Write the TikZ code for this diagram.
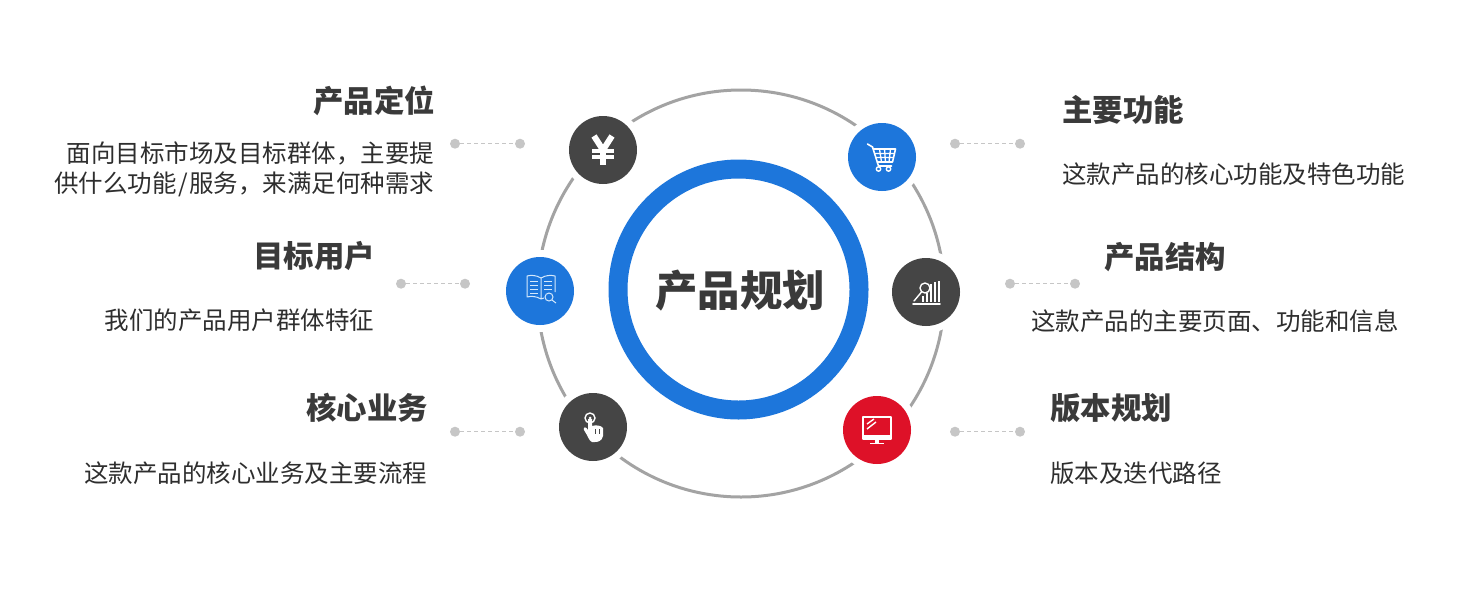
\documentclass[tikz,border=0pt]{standalone}
\usepackage{fontspec}
\setmainfont{Noto Sans CJK SC}
\definecolor{txt}{HTML}{3A3A3A}
\definecolor{dtxt}{HTML}{2E2E2E}
\definecolor{dk}{HTML}{454545}
\definecolor{blu}{HTML}{1D76DB}
\definecolor{redd}{HTML}{DE1128}
\definecolor{ringg}{HTML}{A3A3A3}
\definecolor{dotg}{HTML}{C6C6C6}
\definecolor{lblu}{HTML}{D4E8FC}
\tikzset{
 x=1pt,y=-1pt,
 head/.style={inner sep=0pt,font=\fontsize{30.4}{30}\selectfont\bfseries,text=txt},
 desc/.style={inner sep=0pt,font=\fontsize{24.5}{30}\selectfont,text=dtxt},
 badge/.style={circle,minimum size=68pt,inner sep=0pt,preaction={draw=white,line width=14pt}},
 dotn/.style={circle,fill=dotg,minimum size=10pt,inner sep=0pt},
 lead/.style={draw=dotg,line width=1.2pt,dash pattern=on 4pt off 3pt},
 ico/.style={draw=white,line width=1pt,fill=none,line cap=round,line join=round},
}
\begin{document}
\begin{tikzpicture}
\useasboundingbox (0,0) rectangle (1482,600);
\fill[white] (0,0) rectangle (1482,600);
\coordinate (c) at (741,293.5);
\draw[ringg,line width=3pt] (c) circle[radius=203.5];
\node[circle,draw=blu,line width=19pt,minimum size=241pt,inner sep=0pt] (core) at (738.5,289.5) {};
\node[inner sep=0pt,font=\fontsize{42.4}{42}\selectfont\bfseries,text=txt,anchor=base] (title) at (740,306.5) {产品规划};
% badges
\node[badge,fill=dk] (yen) at (603,150) {};
\node[badge,fill=blu] (book) at (540,291) {};
\node[badge,fill=dk] (hand) at (593,427) {};
\node[badge,fill=blu] (cart) at (882,157) {};
\node[badge,fill=dk] (chart) at (926,292) {};
\node[badge,fill=redd] (mon) at (877,430) {};
% leads
\foreach \a/\b/\xa/\xb/\yy in {l1a/l1b/455/520/143.7,l2a/l2b/401/465/283.7,l3a/l3b/455/520/431.7,r1a/r1b/955/1020/143.7,r2a/r2b/1010/1075/283.7,r3a/r3b/955/1020/431.7}{
 \node[dotn] (\a) at (\xa,\yy) {};
 \node[dotn] (\b) at (\xb,\yy) {};
 \draw[lead] (\a) -- (\b);
}
% texts left
\node[head,anchor=base east] (h1) at (435,112) {产品定位};
\node[desc,anchor=base east] (d1a) at (434.5,162.3) {面向目标市场及目标群体，主要提};
\node[desc,anchor=base east] (d1b) at (434.5,192.3) {供什么功能\kern1.5pt/\kern1.5pt服务，来满足何种需求};
\node[head,anchor=base east] (h2) at (375,267) {目标用户};
\node[desc,anchor=base east] (d2) at (374.5,329.5) {我们的产品用户群体特征};
\node[head,anchor=base east] (h3) at (428,419.3) {核心业务};
\node[desc,anchor=base east] (d3) at (427.5,482.5) {这款产品的核心业务及主要流程};
% texts right
\node[head,anchor=base west] (h4) at (1062,121.3) {主要功能};
\node[desc,anchor=base west] (d4) at (1062,183.3) {这款产品的核心功能及特色功能};
\node[head,anchor=base west] (h5) at (1104,268.3) {产品结构};
\node[desc,anchor=base west] (d5) at (1031,330.3) {这款产品的主要页面、功能和信息};
\node[head,anchor=base west] (h6) at (1050,419.3) {版本规划};
\node[desc,anchor=base west] (d6) at (1050,482.5) {版本及迭代路径};
% yen icon
\begin{scope}[shift={(603,148)}]
\draw[white,line width=6pt] (-9,-12) -- (0,2) -- (9,-12);
\draw[white,line width=6pt] (0,1) -- (0,17);
\draw[white,line width=3.2pt] (-11,3) -- (11,3) (-11,9) -- (11,9);
\end{scope}
% book icon
\begin{scope}[shift={(541,289)}]
\begin{scope}[lblu]
\draw[line width=1pt,line join=round] (0,-11) .. controls (-5,-14) and (-10,-14) .. (-14,-13) -- (-14,8) .. controls (-10,7) and (-5,7) .. (0,10) -- (3,9) (0,-11) .. controls (5,-14) and (10,-14) .. (14,-13) -- (14,3) (0,-11) -- (0,10);
\foreach \yy in {-8,-4,0,4}{\draw[line width=1pt] (-11,\yy) -- (-3,\yy);}
\foreach \yy in {-8,-4,0}{\draw[line width=1pt] (3,\yy) -- (11,\yy);}
\draw[line width=1pt] (8,8) circle[radius=4] (11,11) -- (15,14);
\end{scope}
\end{scope}
% hand icon
\begin{scope}[shift={(590,426)}]
\draw[white,line width=1.4pt] (0,-8) circle[radius=5];
\fill[white] (0,-8) circle[radius=1.5];
\fill[white] (-2,-7) -- (2,-7) -- (2,0) .. controls (5,-1) and (11,-1) .. (13,2) -- (13,10) .. controls (12,15) and (8,16) .. (5,16) -- (2,16) .. controls (-1,15) and (-2,10) .. (-6,4) .. controls (-7,1) and (-4,0) .. (-2,4) -- cycle;
\draw[dk,line width=.7pt] (5,3) -- (5,8) (9,3) -- (9,8);
\end{scope}
% cart icon
\begin{scope}[shift={(881.5,157)}]
\draw[ico,line width=1.6pt] (-14,-13) -- (-9,-10) -- (-3,9) -- (10,9);
\draw[ico,line width=1.6pt] (-8,-8) -- (14,-8) -- (11,5) -- (-4,5);
\draw[ico,line width=1.3pt] (-6,-3.5) -- (13,-3.5) (-5,.5) -- (12,.5) (-2,-8) -- (0,5) (3,-8) -- (4,5) (9,-8) -- (7.5,5);
\draw[ico,line width=1.4pt] (-3,12) circle[radius=2.2] (7,12) circle[radius=2.2];
\end{scope}
% chart icon
\begin{scope}[shift={(926,292)}]
\draw[ico,line width=1.6pt] (-13,12) -- (14,12);
\draw[ico,line width=1.4pt] (-1,-4) circle[radius=5];
\draw[ico,line width=1.4pt] (-4.5,0) -- (-12,9);
\draw[white,line width=2pt] (-3,9.5) -- (-3,4) (1,9.5) -- (1,1) (5,9.5) -- (5,-8) (9,9.5) -- (9,-10) (13,9.5) -- (13,-11);
\end{scope}
% monitor icon
\begin{scope}[shift={(877,430)}]
\draw[white,line width=1.8pt,line join=round] (-14,-13) rectangle (14,9);
\fill[white] (-14,5) rectangle (14,9);
\draw[white,line width=1.4pt] (-10,-6) -- (-3,-11) (-10,-1) -- (-1,-8);
\fill[white] (-2,9) rectangle (2,13);
\draw[white,line width=1.8pt] (-7,13.5) -- (7,13.5);
\end{scope}
\end{tikzpicture}
\end{document}
